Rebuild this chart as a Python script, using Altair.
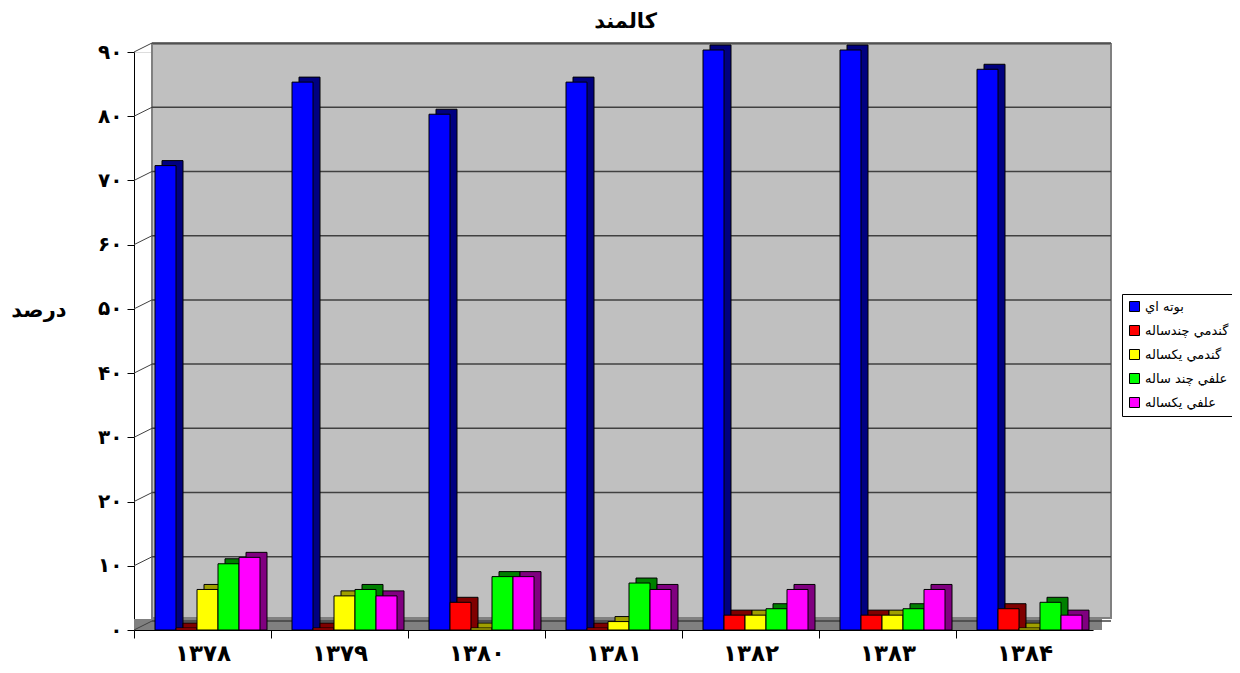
import altair as alt
import pandas as pd

# ---- data ----
YEARS = ["۱۳۷۸", "۱۳۷۹", "۱۳۸۰", "۱۳۸۱", "۱۳۸۲", "۱۳۸۳", "۱۳۸۴"]
SERIES = ["بوته اي", "گندمي چندساله", "گندمي يكساله", "علفي چند ساله", "علفي يكساله"]
BUSHES = [72, 85, 80, 85, 90, 90, 87]
PERENNIAL_GRASS = [0, 0, 4, 0, 2, 2, 3]
ANNUAL_GRASS = [6, 5, 0, 1, 2, 2, 0]
PERENNIAL_FORB = [10, 6, 8, 7, 3, 3, 4]
ANNUAL_FORB = [11, 5, 8, 6, 6, 6, 2]
Y_TICKS = [0, 10, 20, 30, 40, 50, 60, 70, 80, 90]
Y_TICK_LABELS = ["۰", "۱۰", "۲۰", "۳۰", "۴۰", "۵۰", "۶۰", "۷۰", "۸۰", "۹۰"]
TITLE = "کالمند"
Y_TITLE = "درصد"

# ---- styling ----
BRIGHT = ["#0000FF", "#FF0000", "#FFFF00", "#00FF00", "#FF00FF"]
DARK = ["#000080", "#800000", "#A0A000", "#008000", "#800080"]
FONT = "DejaVu Sans"
W, H = 959, 578

values = [BUSHES, PERENNIAL_GRASS, ANNUAL_GRASS, PERENNIAL_FORB, ANNUAL_FORB]
rows = []
for s, vals in zip(SERIES, values):
    for y, v in zip(YEARS, vals):
        rows.append({"year": y, "series": s, "shade": s, "value": v})
df = pd.DataFrame(rows)
ticks_df = pd.DataFrame({"v": Y_TICKS})
one = pd.DataFrame({"k": [0]})

label_expr = "[{}][indexof([{}], datum.value)]".format(
    ",".join("'" + t + "'" for t in Y_TICK_LABELS), ",".join(str(t) for t in Y_TICKS)
)

yscale = alt.Scale(domain=[0, 90], nice=False, zero=True)
yaxis = alt.Axis(
    values=Y_TICKS, labelExpr=label_expr, grid=False, ticks=True, tickSize=7,
    tickColor="black", domainColor="black", labelFont=FONT, labelFontSize=20,
    labelFontWeight="bold", labelColor="black", labelPadding=5,
    title=Y_TITLE, titleAngle=0, titleAlign="right", titleBaseline="middle",
    titleX=-68, titleY=258, titleFont=FONT, titleFontSize=21, titleFontWeight="bold",
    titleColor="black",
)
xscale = alt.Scale(paddingInner=0.2336, paddingOuter=0.1168)
step = W / len(YEARS)
xaxis = alt.Axis(
    title=None, labelAngle=0, labelFont=FONT, labelFontSize=23, labelFontWeight="bold",
    labelColor="black", tickSize=8, tickColor="black", domainColor="black",
    tickOffset=-step / 2, labelOffset=step / 2, labelPadding=22,
    labelBaseline="alphabetic",
)


def Y(field):
    return alt.Y(field, scale=yscale, axis=yaxis, title=Y_TITLE)


def X():
    return alt.X("year:N", sort=YEARS, scale=xscale, axis=xaxis)


back_wall = alt.Chart(one).mark_rect(
    fill="#C0C0C0", stroke="#808080", strokeWidth=2,
    xOffset=18, x2Offset=18, yOffset=-8, y2Offset=-12,
).encode(x=alt.value(0), x2=alt.value(W), y=alt.value(0), y2=alt.value(H))

floor = alt.Chart(one).mark_rect(fill="#808080", x2Offset=9).encode(
    x=alt.value(0), x2=alt.value(W), y=alt.value(H - 11), y2=alt.value(H)
)

grid = alt.Chart(ticks_df).mark_rule(
    color="#404040", strokeWidth=1.5, xOffset=18, x2Offset=18, yOffset=-9
).encode(y=Y("v:Q"), x=alt.value(0), x2=alt.value(W))

connectors = alt.Chart(ticks_df).mark_rule(
    color="#404040", strokeWidth=1, y2Offset=-9
).encode(y=Y("v:Q"), y2=alt.Y2("v:Q"), x=alt.value(0), x2=alt.value(18))

shadow = alt.Chart(df).mark_bar(
    stroke="black", strokeWidth=1, yOffset=-7, y2Offset=-7
).encode(
    x=X(),
    xOffset=alt.XOffset("series:N", sort=SERIES, scale=alt.Scale(range=[12, 117])),
    y=Y("value:Q").stack(False),
    fill=alt.Fill("shade:N", sort=SERIES, scale=alt.Scale(range=DARK), legend=None),
)

front = alt.Chart(df).mark_bar(
    stroke="black", strokeWidth=1, yOffset=-2, y2Offset=-3
).encode(
    x=X(),
    xOffset=alt.XOffset("series:N", sort=SERIES, scale=alt.Scale(range=[5, 110])),
    y=Y("value:Q").stack(False),
    color=alt.Color(
        "series:N", sort=SERIES, scale=alt.Scale(domain=SERIES, range=BRIGHT),
        title=None,
        legend=alt.Legend(
            orient="none", legendX=988, legendY=242, direction="vertical",
            symbolType="square", symbolSize=100, symbolStrokeColor="black",
            symbolStrokeWidth=1, labelFont=FONT, labelFontSize=13, labelColor="black",
            rowPadding=9, padding=6, fillColor="white", strokeColor="black",
            labelLimit=200, cornerRadius=0,
        ),
    ),
)

chart = (
    alt.layer(back_wall, floor, grid, connectors, shadow, front)
    .resolve_scale(xOffset="independent")
    .properties(
        width=W, height=H,
        padding={"left": 126, "top": 44, "right": 139, "bottom": 35},
        autosize=alt.AutoSizeParams(type="none"),
        title=alt.Title(TITLE, fontSize=21, fontWeight="bold", font=FONT, offset=10,
                        dx=12, anchor="middle", color="black"),
    )
    .configure_view(fill="#C0C0C0", stroke="transparent")
    .configure(background="white")
)

chart.save("out.html", embed_options={"renderer": "svg", "actions": False})
